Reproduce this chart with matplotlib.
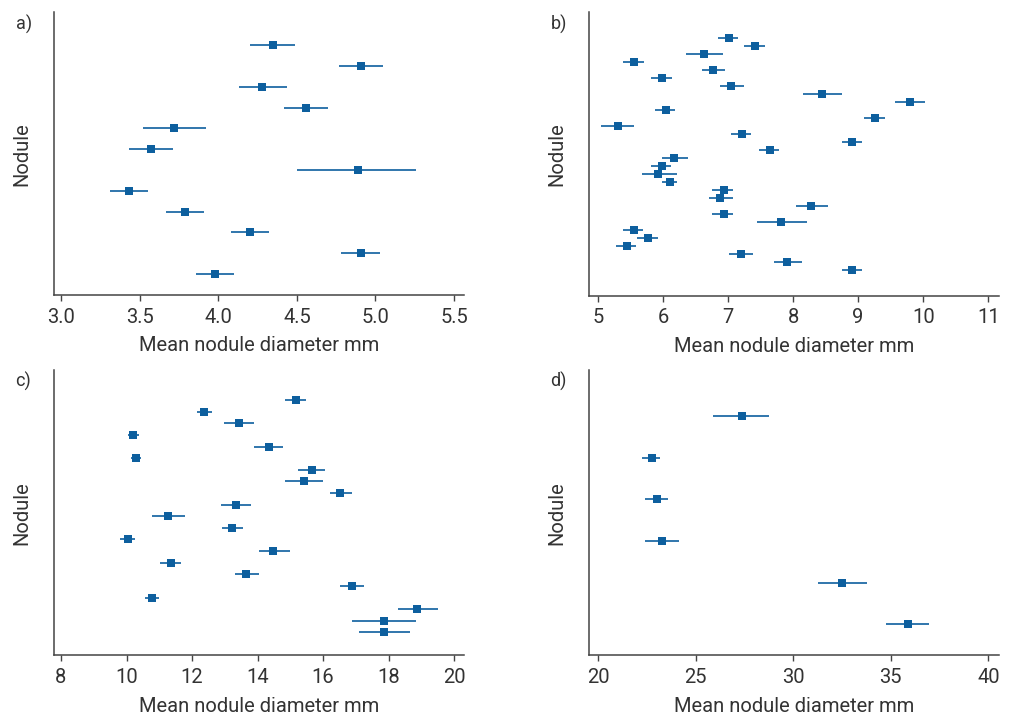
import numpy as np
import matplotlib
matplotlib.use("Agg")
import matplotlib.pyplot as plt

# panel a) values listed top to bottom: mean, lower, upper (mm)
a_mean = [4.35, 4.91, 4.28, 4.56, 3.72, 3.57, 4.89, 3.43, 3.79, 4.20, 4.91, 3.98]
a_lo = [4.20, 4.77, 4.13, 4.42, 3.52, 3.43, 4.50, 3.31, 3.67, 4.08, 4.78, 3.86]
a_hi = [4.49, 5.05, 4.44, 4.70, 3.92, 3.71, 5.26, 3.55, 3.91, 4.32, 5.03, 4.10]

# panel b)
b_mean = [7.01, 7.42, 6.63, 5.55, 6.77, 5.99, 7.05, 8.45, 9.80, 6.05, 9.26, 5.31, 7.21, 8.91,
          7.64, 6.17, 5.99, 5.93, 6.11, 6.93, 6.87, 8.27, 6.93, 7.82, 5.55, 5.77, 5.44, 7.20,
          7.90, 8.91]
b_lo = [6.84, 7.25, 6.35, 5.38, 6.60, 5.82, 6.88, 8.15, 9.57, 5.88, 9.09, 5.04, 7.04, 8.75,
        7.48, 5.98, 5.82, 5.67, 5.99, 6.76, 6.70, 8.04, 6.76, 7.44, 5.38, 5.60, 5.27, 7.01,
        7.70, 8.75]
b_hi = [7.16, 7.56, 6.92, 5.70, 6.96, 6.14, 7.25, 8.75, 10.02, 6.19, 9.41, 5.55, 7.36, 9.06,
        7.79, 6.39, 6.13, 6.21, 6.22, 7.08, 7.08, 8.53, 7.08, 8.22, 5.69, 5.92, 5.58, 7.38,
        8.13, 9.06]

# panel c)
c_mean = [15.17, 12.38, 13.44, 10.21, 14.36, 10.29, 15.66, 15.41, 16.53, 13.34, 11.28,
          13.23, 10.05, 14.46, 11.35, 13.64, 16.87, 10.79, 18.88, 17.85, 17.85]
c_lo = [14.84, 12.16, 12.97, 10.06, 13.90, 10.13, 15.25, 14.84, 16.20, 12.90, 10.77,
        12.92, 9.81, 14.06, 11.01, 13.31, 16.53, 10.56, 18.29, 16.88, 17.11]
c_hi = [15.49, 12.62, 13.88, 10.37, 14.79, 10.45, 16.07, 15.99, 16.87, 13.79, 11.79,
        13.57, 10.26, 14.98, 11.66, 14.03, 17.25, 11.00, 19.52, 18.85, 18.65]

# panel d)
d_mean = [27.36, 22.75, 23.01, 23.28, 32.50, 35.87]
d_lo = [25.91, 22.27, 22.39, 22.41, 31.29, 34.77]
d_hi = [28.74, 23.18, 23.57, 24.15, 33.77, 36.97]

panels = [
    ("a)", a_mean, a_lo, a_hi, [3.0, 3.5, 4.0, 4.5, 5.0, 5.5], (2.954, 5.564), (-0.01, 13.585), "{:.1f}"),
    ("b)", b_mean, b_lo, b_hi, [5, 6, 7, 8, 9, 10, 11], (4.862, 11.16), (-2.17, 33.2), "{:d}"),
    ("c)", c_mean, c_lo, c_hi, [8, 10, 12, 14, 16, 18, 20], (7.786, 20.305), (-0.98, 23.6), "{:d}"),
    ("d)", d_mean, d_lo, d_hi, [20, 25, 30, 35, 40], (19.54, 40.53), (0.257, 7.1), "{:d}"),
]

# axes boxes in figure fractions (left, bottom, width, height)
boxes = [
    (0.0534, 0.589, 0.4056, 0.394),
    (0.5826, 0.588, 0.4052, 0.395),
    (0.0534, 0.0873, 0.4056, 0.3974),
    (0.5826, 0.0873, 0.4052, 0.3974),
]

blue = "#0d5f9e"
txt = "#333333"
plt.rcParams["font.family"] = ["Roboto", "DejaVu Sans"]

fig = plt.figure(figsize=(10.11, 7.18), dpi=100)
for (tag, mean, lo, hi, ticks, xlim, ylim, fmt), box in zip(panels, boxes):
    ax = fig.add_axes(box)
    mean = np.array(mean); lo = np.array(lo); hi = np.array(hi)
    y = np.arange(len(mean), 0, -1)
    ax.errorbar(mean, y, xerr=[mean - lo, hi - mean], fmt="s", color=blue,
                ms=6.3, elinewidth=1.2, capsize=0, markeredgewidth=0)
    ax.set_xlim(*xlim); ax.set_ylim(*ylim)
    ax.set_xticks(ticks)
    ax.set_xticklabels([fmt.format(t) for t in ticks])
    ax.set_yticks([])
    for s in ("top", "right"):
        ax.spines[s].set_visible(False)
    for s in ("left", "bottom"):
        ax.spines[s].set_color("#444444"); ax.spines[s].set_linewidth(1.1)
    ax.tick_params(axis="x", length=4, width=1.0, color="#444444", pad=5,
                   labelsize=14.5, labelcolor=txt)
    ax.set_xlabel("Mean nodule diameter mm", fontsize=14.5, color=txt, labelpad=7)
    ax.set_ylabel("Nodule", fontsize=14.5, color=txt, labelpad=16)
    l, b, w, h = box
    fig.text(l - 0.038, b + h - 0.003, tag, fontsize=13, color=txt, va="top", ha="left")

fig.savefig("out.png", dpi=100)
